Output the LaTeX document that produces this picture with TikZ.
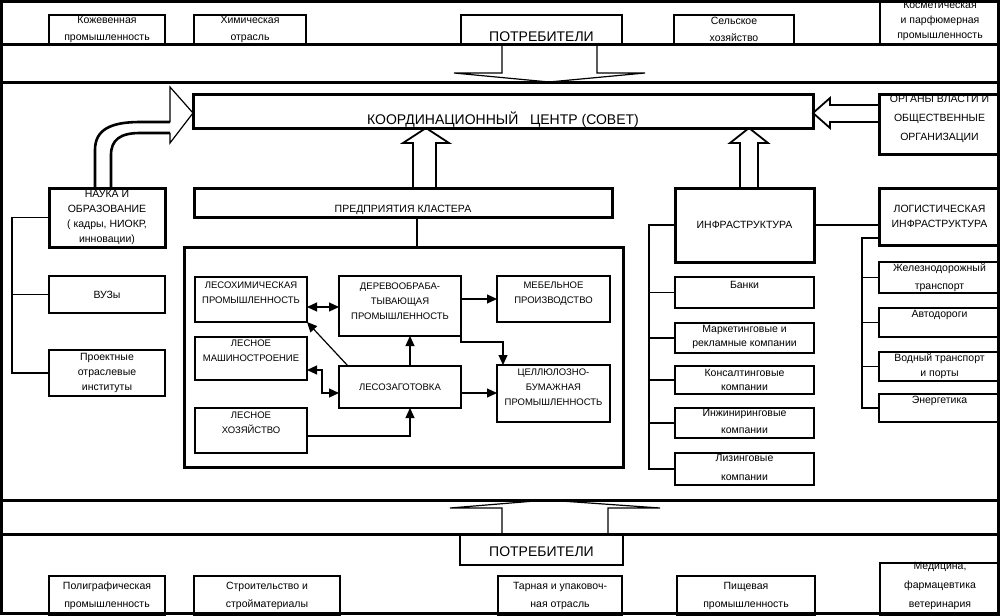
\documentclass[tikz,border=0pt]{standalone}
\usepackage{fontspec}
\setmainfont{Liberation Sans}
\usetikzlibrary{arrows.meta,calc}
\tikzset{
  frame/.style={line width=3pt},
  lbox/.style={draw,line width=1.8pt,inner sep=0pt,outer sep=0pt},
  mbox/.style={draw,line width=2.4pt,inner sep=0pt,outer sep=0pt},
  hbox/.style={draw,line width=3pt,inner sep=0pt,outer sep=0pt},
  t/.style={align=center,inner sep=0pt,font=\fontsize{10.5}{14}\selectfont},
  t15/.style={t,font=\fontsize{10.5}{15}\selectfont},
  t17/.style={t,font=\fontsize{10.5}{17}\selectfont},
  t18/.style={t,font=\fontsize{10.5}{18}\selectfont},
  t19/.style={t,font=\fontsize{10.5}{19}\selectfont},
  tc/.style={align=center,inner sep=0pt,font=\fontsize{9.5}{15}\selectfont},
  tb/.style={align=center,inner sep=0pt,font=\fontsize{14}{16}\selectfont},
  conn/.style={line width=1.4pt},
  arr/.style={line width=1.2pt,-{Triangle[length=10pt,width=9pt]}},
  darr/.style={line width=1.2pt,{Triangle[length=10pt,width=9pt]}-{Triangle[length=10pt,width=9pt]}},
  blk/.style={line width=1.8pt},
  blkthin/.style={line width=1.2pt},
}
\newcommand\bx[8]{%
  \node[#2,anchor=north west,minimum width={#5pt-#3pt},minimum height={#6pt-#4pt}] (#1) at (#3,#4) {};
  \node[#7] (#1-t) at (#1.center) {#8};}
\begin{document}
\begin{tikzpicture}[x=1pt,y=-1pt]
\useasboundingbox (0,0) rectangle (1000,615);
% outer frame and bands
\draw[frame] (1.5,1.5) rectangle (998.5,613.5);
\draw[frame] (0,44.5) -- (1000,44.5);
\draw[frame] (0,82.5) -- (1000,82.5);
\draw[frame] (0,500) -- (1000,500);
\draw[frame] (0,534) -- (1000,534);

% top strip
\bx{koz}{lbox}{49}{15}{165}{44.5}{t17}{Кожевенная\\промышленность}
\bx{him}{lbox}{194}{15}{306}{44.5}{t17}{Химическая\\отрасль}
\bx{potr1}{mbox}{461}{15}{622}{44.5}{tb,yshift=-7pt}{ПОТРЕБИТЕЛИ}
\bx{selk}{lbox}{674}{15}{794}{44.5}{t17}{Сельское\\хозяйство}
\bx{kosm}{lbox}{880}{0}{1000}{44.5}{t15,yshift=1.5pt}{Косметическая\\и парфюмерная\\промышленность}

% top down block arrow
\draw[blkthin] (502,44.5) -- (502,73) -- (454,73) -- (549,82) -- (645,73) -- (597,73) -- (597,44.5);

% coordination centre
\bx{coord}{hbox}{193}{95}{813}{128}{tb,yshift=-8pt}{КООРДИНАЦИОННЫЙ\ \ \ ЦЕНТР (СОВЕТ)}

% authorities
\bx{organ}{hbox}{879}{95}{1000}{154}{t19,yshift=5.5pt}{ОРГАНЫ ВЛАСТИ И\\ОБЩЕСТВЕННЫЕ\\ОРГАНИЗАЦИИ}
\draw[blk] (organ.west |- 0,105) -- (830,105) -- (830,98) -- (coord.east |- 0,113) -- (830,128) -- (830,122) -- (organ.west |- 0,122);

% science column
\bx{nauka}{hbox}{49}{188}{165}{247}{t15}{НАУКА И\\ОБРАЗОВАНИЕ\\( кадры, НИОКР,\\инновации)}
\bx{vuz}{mbox}{49}{276}{165}{313}{t}{ВУЗы}
\bx{proekt}{mbox}{49}{350}{165}{396}{t15}{Проектные\\отраслевые\\институты}
\coordinate (lbus) at (12,300);
\draw[conn] (nauka.west) -- (nauka.west -| lbus) -- (proekt.west -| lbus) -- (proekt.west);
\draw[conn] (vuz.west) -- (vuz.west -| lbus);

% curved block arrow from science to coordination centre
\draw[line width=2.6pt] (95,188) -- (95,150) .. controls (95,130) and (110,122) .. (140,122) -- (170,122);
\draw[line width=2.6pt] (111,188) -- (111,155) .. controls (111,140) and (120,133) .. (140,133) -- (170,133);
\draw[blkthin] (170,122) -- (170,87) -- (coord.west |- 0,113) -- (170,143) -- (170,133);

% cluster
\bx{cbar}{hbox}{194}{188}{612}{217}{t,yshift=-7.5pt}{ПРЕДПРИЯТИЯ КЛАСТЕРА}
\node[hbox,anchor=north west,minimum width=439pt,minimum height=220pt] (cbox) at (184,247) {};
\coordinate (cx) at (417,0);
\draw[line width=2.8pt] (cbar.south -| cx) -- (cbox.north -| cx);
\draw[blk] (413,188) -- (413,143) -- (403,143) -- (426,128) -- (449,143) -- (436,143) -- (436,188);

\bx{lesohim}{mbox}{195}{277}{307}{322}{tc,yshift=6.5pt}{ЛЕСОХИМИЧЕСКАЯ\\ПРОМЫШЛЕННОСТЬ}
\bx{derevo}{mbox}{339}{276}{461}{336}{tc,yshift=5pt}{ДЕРЕВООБРАБА-\\ТЫВАЮЩАЯ\\ПРОМЫШЛЕННОСТЬ}
\bx{mebel}{mbox}{497}{276}{610}{322}{tc,yshift=5.5pt}{МЕБЕЛЬНОЕ\\ПРОИЗВОДСТВО}
\bx{mash}{mbox}{195}{337}{307}{380}{tc,yshift=7.5pt}{ЛЕСНОЕ\\МАШИНОСТРОЕНИЕ}
\bx{lesozag}{mbox}{339}{366}{461}{408}{tc}{ЛЕСОЗАГОТОВКА}
\bx{cell}{mbox}{497}{365}{610}{422}{tc,yshift=6.5pt}{ЦЕЛЛЮЛОЗНО-\\БУМАЖНАЯ\\ПРОМЫШЛЕННОСТЬ}
\bx{lhoz}{mbox}{195}{408}{307}{453}{tc,yshift=8pt}{ЛЕСНОЕ\\ХОЗЯЙСТВО}

\draw[darr] ($(lesohim.east)+(0,7.5)$) -- ($(lesohim.east -| derevo.west)+(0,7.5)$);
\draw[arr] (derevo.east |- mebel.west) -- (mebel.west);
\draw[arr] (derevo.south east) -- ++(0,6) -| ($(cell.north west)+(6,0)$);
\draw[arr] ($(lesozag.north)+(10,0)$) -- ($(derevo.south)+(10,0)$);
\draw[arr] ($(lesozag.north west)+(9,0)$) -- (lesohim.south east);
\draw[darr] ($(mash.east)+(0,11.5)$) -- ++(15,0) |- ($(lesozag.west)+(0,6)$);
\draw[arr] ($(lhoz.east)+(0,5.5)$) -| ($(lesozag.south)+(10,0)$);
\draw[arr] ($(lesozag.east)+(0,6)$) -- ($(lesozag.east -| cell.west)+(0,6)$);

% infrastructure
\bx{infra}{hbox}{675}{188}{814}{262}{t}{ИНФРАСТРУКТУРА}
\draw[blk] (740,188) -- (740,143) -- (730,143) -- (749,128) -- (768,143) -- (758,143) -- (758,188);
\bx{banki}{mbox}{675}{277}{814}{308}{t,yshift=7.5pt}{Банки}
\bx{market}{mbox}{675}{323}{814}{353}{t,yshift=1.5pt}{Маркетинговые и\\рекламные компании}
\bx{konsalt}{mbox}{675}{366}{814}{394}{t}{Консалтинговые\\компании}
\bx{inzh}{mbox}{675}{408}{814}{438}{t17,yshift=1.5pt}{Инжиниринговые\\компании}
\bx{lizing}{mbox}{675}{453}{814}{485}{t19,yshift=1.5pt}{Лизинговые\\компании}
\coordinate (ibus) at (649,300);
\draw[conn] (infra.west) -- (infra.west -| ibus) -- (lizing.west -| ibus) -- (lizing.west);
\foreach \n in {banki,market,konsalt,inzh}
  \draw[conn] (\n.west) -- (\n.west -| ibus);

% logistics
\bx{logist}{hbox}{879}{188}{1000}{245}{t15}{ЛОГИСТИЧЕСКАЯ\\ИНФРАСТРУКТУРА}
\draw[conn] (infra.east) -- (infra.east -| logist.west);
\bx{zhd}{mbox}{879}{262}{1000}{293}{t18}{Железнодорожный\\транспорт}
\bx{avto}{mbox}{879}{308}{1000}{337}{t,yshift=7.5pt}{Автодороги}
\bx{vodn}{mbox}{879}{352}{1000}{381}{t15}{Водный транспорт\\и порты}
\bx{energ}{mbox}{879}{394}{1000}{422}{t,yshift=7pt}{Энергетика}
\coordinate (gbus) at (862,300);
\coordinate (g0) at (862,238);
\draw[conn] (logist.west |- g0) -- (g0) -- (energ.west -| gbus) -- (energ.west);
\foreach \n in {zhd,avto,vodn}
  \draw[conn] (\n.west) -- (\n.west -| gbus);

% bottom up block arrow
\draw[blkthin] (502,534) -- (502,508) -- (450,508) -- (547,500) -- (660,508) -- (608,508) -- (608,534);

% bottom strip
\bx{potr2}{lbox}{460}{534}{623}{565}{tb,yshift=-2.5pt}{ПОТРЕБИТЕЛИ}
\bx{polig}{lbox}{49}{576}{165}{615}{t18}{Полиграфическая\\промышленность}
\bx{stroy}{lbox}{194}{576}{340}{615}{t18}{Строительство и\\стройматериалы}
\bx{tara}{lbox}{498}{576}{622}{615}{t18}{Тарная и упаковоч-\\ная отрасль}
\bx{pish}{lbox}{677}{576}{815}{615}{t18}{Пищевая\\промышленность}
\bx{med}{lbox}{880}{563}{1000}{615}{t19,yshift=3pt}{Медицина,\\фармацевтика\\ветеринария}
\end{tikzpicture}
\end{document}
